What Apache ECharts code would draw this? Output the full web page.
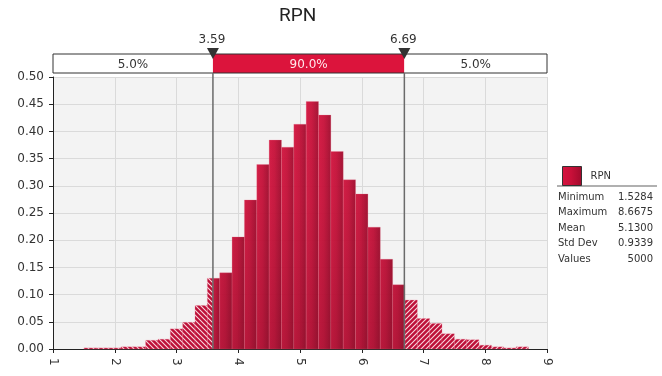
<!DOCTYPE html>
<html lang="en">
<head>
    <meta charset="UTF-8">
    <title>RPN</title>
    <script type="text/javascript" src="https://cdn.jsdelivr.net/npm/echarts@6/dist/echarts.min.js"></script>
    <style>
        html, body { margin: 0; padding: 0; background: #fff; }
    </style>
</head>
<body>
<div id="main" style="width: 662px;height:376px;"></div>
<script>
    // bin edges (lower / upper edge of each bin) and the density read for each bin
    var binLo = [1.5, 1.7, 1.9, 2.1, 2.3, 2.5, 2.7, 2.9, 3.1, 3.3, 3.5, 3.7, 3.9, 4.1, 4.3, 4.5, 4.7, 4.9,
        5.1, 5.3, 5.5, 5.7, 5.9, 6.1, 6.3, 6.5, 6.7, 6.9, 7.1, 7.3, 7.5, 7.7, 7.9, 8.1, 8.3, 8.5];
    var binHi = [1.7, 1.9, 2.1, 2.3, 2.5, 2.7, 2.9, 3.1, 3.3, 3.5, 3.7, 3.9, 4.1, 4.3, 4.5, 4.7, 4.9, 5.1,
        5.3, 5.5, 5.7, 5.9, 6.1, 6.3, 6.5, 6.7, 6.9, 7.1, 7.3, 7.5, 7.7, 7.9, 8.1, 8.3, 8.5, 8.7];
    var density = [0.002, 0.002, 0.002, 0.004, 0.004, 0.016, 0.018, 0.037, 0.049, 0.080, 0.130, 0.140,
        0.206, 0.274, 0.339, 0.384, 0.371, 0.413, 0.455, 0.430, 0.363, 0.311, 0.285, 0.224, 0.165, 0.118,
        0.090, 0.056, 0.047, 0.028, 0.018, 0.017, 0.007, 0.004, 0.002, 0.004];

    // delimiters and the band labels
    var cutLo = 3.59;
    var cutHi = 6.69;
    var bandLabels = ['5.0%', '90.0%', '5.0%'];

    // statistics box
    var statLabels = ['Minimum', 'Maximum', 'Mean', 'Std Dev', 'Values'];
    var statValues = ['1.5284', '8.6675', '5.1300', '0.9339', '5000'];

    var FONT = 'DejaVu Sans';

    // striped fill for the tails
    function hatch(dir) {
        var s = 5;
        var c = document.createElement('canvas');
        c.width = s; c.height = s;
        var ctx = c.getContext('2d');
        ctx.fillStyle = '#bd1038';
        ctx.fillRect(0, 0, s, s);
        ctx.strokeStyle = 'rgba(255,235,240,0.9)';
        ctx.lineWidth = 1.1;
        ctx.beginPath();
        if (dir > 0) {
            ctx.moveTo(-1, -1); ctx.lineTo(s + 1, s + 1);
            ctx.moveTo(s - 1, -1); ctx.lineTo(s + 1, 1);
            ctx.moveTo(-1, s - 1); ctx.lineTo(1, s + 1);
        } else {
            ctx.moveTo(-1, s + 1); ctx.lineTo(s + 1, -1);
            ctx.moveTo(-1, 1); ctx.lineTo(1, -1);
            ctx.moveTo(s - 1, s + 1); ctx.lineTo(s + 1, s - 1);
        }
        ctx.stroke();
        return {type: 'pattern', image: c, repeat: 'repeat'};
    }
    var hatchL = hatch(1);
    var hatchR = hatch(-1);

    function barFill() {
        return new echarts.graphic.LinearGradient(0, 0, 1, 0, [
            {offset: 0, color: '#d6143f'},
            {offset: 0.45, color: '#c81039'},
            {offset: 1, color: '#a00a2c'}
        ]);
    }

    var bins = [];
    for (var i = 0; i < binLo.length; i++) {
        bins.push([binLo[i], binHi[i], density[i]]);
    }

    function renderBin(params, api) {
        var lo = api.value(0), hi = api.value(1), d = api.value(2);
        var yTop = api.coord([1, 0.5])[1];
        var yBot = api.coord([1, 0])[1];
        var shade = new echarts.graphic.LinearGradient(0, yTop, 0, yBot, [
            {offset: 0, color: 'rgba(70,0,15,0)'},
            {offset: 0.45, color: 'rgba(70,0,15,0.04)'},
            {offset: 1, color: 'rgba(70,0,15,0.2)'}
        ], true);
        var segs = [
            [lo, Math.min(hi, cutLo), hatchL],
            [Math.max(lo, cutLo), Math.min(hi, cutHi), null],
            [Math.max(lo, cutHi), hi, hatchR]
        ];
        var children = [];
        segs.forEach(function (sg) {
            if (sg[1] <= sg[0]) return;
            var p0 = api.coord([sg[0], d]);
            var p1 = api.coord([sg[1], 0]);
            var shape = {x: p0[0], y: p0[1], width: p1[0] - p0[0], height: p1[1] - p0[1]};
            children.push({
                type: 'rect',
                shape: shape,
                style: sg[2] ? {fill: sg[2], stroke: 'rgba(235,120,145,0.45)', lineWidth: 0.6}
                    : {fill: barFill(), stroke: 'rgba(235,120,145,0.45)', lineWidth: 0.6, opacity: 0.95}
            });
            if (!sg[2]) {
                children.push({type: 'rect', shape: shape, style: {fill: shade}});
            }
        });
        return {type: 'group', children: children};
    }

    function renderBand(params, api) {
        var top = api.coord([1, 0.5])[1];
        var bottom = api.coord([1, 0])[1];
        var xL = api.coord([1, 0])[0];
        var xR = api.coord([9, 0])[0];
        var xa = api.coord([cutLo, 0])[0];
        var xb = api.coord([cutHi, 0])[0];
        var bTop = top - 23, bBot = top - 4;
        var mid = (bTop + bBot) / 2;
        var ch = [
            {type: 'rect', shape: {x: xL, y: bTop, width: xa - xL, height: bBot - bTop}, style: {fill: '#fff'}},
            {type: 'rect', shape: {x: xa, y: bTop, width: xb - xa, height: bBot - bTop}, style: {fill: '#dc143c'}},
            {type: 'rect', shape: {x: xb, y: bTop, width: xR - xb, height: bBot - bTop}, style: {fill: '#fff'}},
            {type: 'rect', shape: {x: xL, y: bTop, width: xR - xL, height: bBot - bTop},
                style: {fill: null, stroke: '#333', lineWidth: 1}},
            {type: 'text', style: {text: bandLabels[0], x: (xL + xa) / 2, y: mid + 1, align: 'center', verticalAlign: 'middle',
                    fontSize: 12, fontFamily: FONT, fill: '#333'}},
            {type: 'text', style: {text: bandLabels[1], x: (xa + xb) / 2, y: mid + 1, align: 'center', verticalAlign: 'middle',
                    fontSize: 12, fontFamily: FONT, fill: '#ffe8ec'}},
            {type: 'text', style: {text: bandLabels[2], x: (xb + xR) / 2, y: mid + 1, align: 'center', verticalAlign: 'middle',
                    fontSize: 12, fontFamily: FONT, fill: '#333'}}
        ];
        [[xa, cutLo], [xb, cutHi]].forEach(function (m) {
            ch.push({type: 'line', shape: {x1: m[0], y1: bBot, x2: m[0], y2: bottom},
                style: {stroke: '#6a6a6a', lineWidth: 1.5}});
            ch.push({type: 'polygon', shape: {points: [[m[0] - 6, bTop - 6], [m[0] + 6, bTop - 6], [m[0], bTop + 5]]},
                style: {fill: '#333'}});
            ch.push({type: 'text', style: {text: m[1].toFixed(2), x: m[0] - 1, y: bTop - 14, align: 'center',
                    verticalAlign: 'middle', fontSize: 12, fontFamily: FONT, fill: '#333'}});
        });
        return {type: 'group', children: ch};
    }

    var graphics = [
        {type: 'line', shape: {x1: 557, y1: 186, x2: 657, y2: 186}, style: {stroke: '#b0b0b0', lineWidth: 2}}
    ];
    for (var k = 0; k < statLabels.length; k++) {
        graphics.push({type: 'text', x: 558, y: 197.5 + k * 15.4,
            style: {text: statLabels[k], verticalAlign: 'middle', fontSize: 10, fontFamily: FONT, fill: '#333'}});
        graphics.push({type: 'text', x: 653, y: 197.5 + k * 15.4,
            style: {text: statValues[k], align: 'right', verticalAlign: 'middle', fontSize: 10, fontFamily: FONT, fill: '#333'}});
    }

    var option = {
        animation: false,
        backgroundColor: '#fff',
        title: {
            text: 'RPN',
            left: 274,
            top: 2,
            textStyle: {fontFamily: 'Roboto', fontSize: 19, fontWeight: 'normal', color: '#222'}
        },
        legend: {
            left: 557,
            top: 161,
            itemWidth: 19,
            itemHeight: 19,
            selectedMode: false,
            data: [{
                name: 'RPN',
                icon: 'rect',
                itemStyle: {color: barFill(), borderColor: '#333', borderWidth: 1}
            }],
            textStyle: {fontSize: 10, fontFamily: FONT, color: '#333', padding: [0, 0, 0, 4]}
        },
        grid: {
            left: 53,
            top: 77,
            width: 494,
            height: 272,
            show: true,
            backgroundColor: '#f3f3f3',
            borderWidth: 0
        },
        xAxis: {
            type: 'value',
            min: 1,
            max: 9,
            interval: 1,
            axisLine: {onZero: false, lineStyle: {color: '#222', width: 1}},
            axisTick: {show: true, length: 4, lineStyle: {color: '#222'}},
            axisLabel: {rotate: -90, margin: 9, fontSize: 12, fontFamily: FONT, color: '#333'},
            splitLine: {show: true, lineStyle: {color: '#dadada', width: 1}}
        },
        yAxis: {
            type: 'value',
            min: 0,
            max: 0.5,
            interval: 0.05,
            axisLine: {show: true, lineStyle: {color: '#222', width: 1}},
            axisTick: {show: true, length: 4, lineStyle: {color: '#222'}},
            axisLabel: {margin: 9, fontSize: 12, fontFamily: FONT, color: '#333',
                formatter: function (v) { return v.toFixed(2); }},
            splitLine: {show: true, lineStyle: {color: '#dadada', width: 1}}
        },
        graphic: graphics,
        series: [
            {
                name: 'RPN',
                type: 'custom',
                renderItem: renderBin,
                encode: {x: [0, 1], y: 2},
                data: bins,
                z: 2
            },
            {
                name: 'delimiters',
                type: 'custom',
                renderItem: renderBand,
                data: [[cutLo, cutHi]],
                encode: {x: [0, 1]},
                clip: false,
                silent: true,
                z: 5
            }
        ]
    };

    var myChart = echarts.init(document.getElementById('main'));
    myChart.setOption(option);
</script>
</body>
</html>
